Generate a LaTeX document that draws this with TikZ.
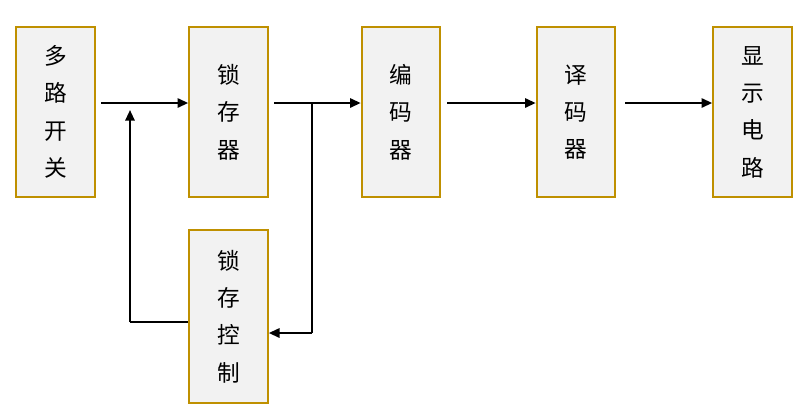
\documentclass[tikz,border=0pt]{standalone}
\usepackage{fontspec}
\newfontfamily\cjk{Noto Sans CJK SC}
\usetikzlibrary{arrows.meta}
\definecolor{gold}{HTML}{BF9000}
\definecolor{boxfill}{HTML}{F2F2F2}
\begin{document}
\begin{tikzpicture}[x=0.75pt,y=-0.75pt,
  box/.style={draw=gold,fill=boxfill,line width=1.5pt,minimum width=59pt,minimum height=127pt,inner sep=0pt,align=center,font=\cjk\fontsize{17}{28}\selectfont},
  arr/.style={line width=1.5pt,-{Triangle[length=8pt,width=7pt]}},
  ln/.style={line width=1.5pt}]
\useasboundingbox (0,0) rectangle (812,415);
\node[box] (a) at (55.5,112) {多\\路\\开\\关};
\node[box] (b) at (228.5,112) {锁\\存\\器};
\node[box] (c) at (401,112) {编\\码\\器};
\node[box] (d) at (576,112) {译\\码\\器};
\node[box] (e) at (752.5,112) {显\\示\\电\\路};
\node[box,minimum height=130pt] (f) at (228.5,316.5) {锁\\存\\控\\制};
\coordinate (j) at (312,103);
\coordinate (k) at (312,333);
\coordinate (p) at (130,322);
\coordinate (q) at (130,110);
\draw[arr] (101,103) -- (b.west|-0,103);
\draw[arr] (274,103) -- (c.west|-0,103);
\draw[arr] (447,103) -- (d.west|-0,103);
\draw[arr] (625,103) -- (e.west|-0,103);
\draw[ln] (j) -- (k);
\draw[arr] (k) -- (f.east|-k);
\draw[ln] (f.west|-p) -- (p);
\draw[arr] (p) -- (q);
\end{tikzpicture}
\end{document}
